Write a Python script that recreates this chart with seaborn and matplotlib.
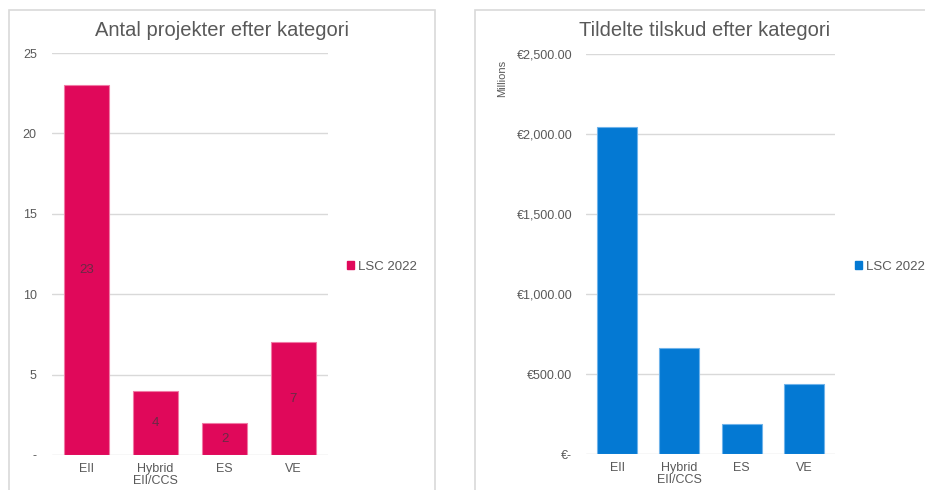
import matplotlib
matplotlib.use("Agg")
import matplotlib.pyplot as plt
import matplotlib.ticker as mticker
from matplotlib.patches import Rectangle, Patch
import seaborn as sns
import pandas as pd

categories = ["EII", "Hybrid\nEII/CCS", "ES", "VE"]
series_name = "LSC 2022"
projects = [23, 4, 2, 7]
grants_millions = [2045, 664, 186, 436]
proj_ticks = [0, 5, 10, 15, 20, 25]
grant_ticks = [0, 500, 1000, 1500, 2000, 2500]
title_left = "Antal projekter efter kategori"
title_right = "Tildelte tilskud efter kategori"
ylabel_right = "Millions"

sns.set_theme(style="white")
plt.rcParams['font.family'] = ['Liberation Sans', 'DejaVu Sans']

PINK = "#E0085A"
BLUE = "#0479D3"
TXT = "#595959"
GRID = "#D9D9D9"

fig = plt.figure(figsize=(9.25, 4.9), dpi=100)
W, H = 925, 490

def axes_px(x0, x1, ytop, ybot):
    return fig.add_axes([x0 / W, 1 - ybot / H, (x1 - x0) / W, (ybot - ytop) / H])

# panel borders
for (bx0, bx1) in [(9, 435), (475, 935)]:
    fig.patches.append(Rectangle((bx0 / W, -0.05), (bx1 - bx0) / W, 1.05 - 10 / H,
                                 transform=fig.transFigure, fill=False,
                                 edgecolor=GRID, linewidth=1.2, zorder=0))

ax1 = axes_px(52, 328, 53, 455)
ax2 = axes_px(586, 835, 54, 454)

df1 = pd.DataFrame({"cat": categories, "val": projects, "series": series_name})
df2 = pd.DataFrame({"cat": categories, "val": grants_millions, "series": series_name})

sns.barplot(data=df1, x="cat", y="val", hue="series", palette=[PINK], width=0.64,
            saturation=1, ax=ax1, edgecolor="#F07AA5", linewidth=0.8, zorder=3,
            legend=False)
sns.barplot(data=df2, x="cat", y="val", hue="series", palette=[BLUE], width=0.64,
            saturation=1, ax=ax2, edgecolor="#6FB3EA", linewidth=0.8, zorder=3,
            legend=False)

for c in ax1.containers:
    ax1.bar_label(c, labels=[str(v) for v in projects], label_type="center",
                  color="#6A2A45", fontsize=9.5)

ax1.set_ylim(0, 25)
ax1.set_yticks(proj_ticks)
ax1.yaxis.set_major_formatter(mticker.FuncFormatter(lambda v, p: "-" if v == 0 else f"{int(v)}"))
ax2.set_ylim(0, 2500)
ax2.set_yticks(grant_ticks)
ax2.yaxis.set_major_formatter(mticker.FuncFormatter(lambda v, p: "€-" if v == 0 else f"€{v:,.2f}"))

for ax in (ax1, ax2):
    ax.set_xlim(-0.5, 3.5)
    ax.set_xlabel("")
    ax.set_ylabel("")
    for s in ax.spines.values():
        s.set_visible(False)
    ax.grid(axis="y", color=GRID, linewidth=1.0, zorder=0)
    ax.set_axisbelow(True)
    ax.tick_params(axis="both", length=0, labelsize=9, colors=TXT, pad=6)
    for lab in ax.get_xticklabels():
        lab.set_linespacing(1.0)

ax1.tick_params(axis="y", pad=11)
ax2.tick_params(axis="y", pad=10)

fig.text(222 / W, 1 - 31 / H, title_left, ha="center", va="center", fontsize=14.5, color=TXT)
fig.text(705 / W, 1 - 31 / H, title_right, ha="center", va="center", fontsize=14.5, color=TXT)
fig.text(502 / W, 1 - 78 / H, ylabel_right, ha="center", va="center", rotation=90,
         fontsize=8, color=TXT)

# legends
for color, xpx in [(PINK, 347), (BLUE, 855)]:
    fig.legend([Patch(facecolor=color, edgecolor=color)], [series_name],
               loc="center left", bbox_to_anchor=(xpx / W, 1 - 267 / H),
               frameon=False, fontsize=9.5, handlelength=0.55, handleheight=0.55,
               handletextpad=0.3, borderpad=0, borderaxespad=0, labelcolor=TXT)

fig.savefig("out.png", dpi=100, facecolor="white")
